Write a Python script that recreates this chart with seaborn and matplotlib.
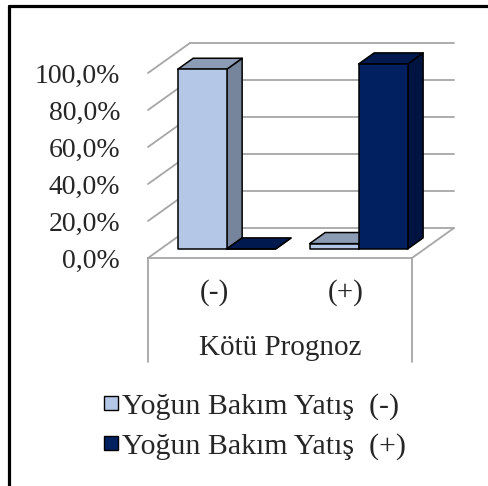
import pandas as pd
import numpy as np
import matplotlib
matplotlib.use("Agg")
import matplotlib.pyplot as plt
import seaborn as sns
from matplotlib.patches import Polygon
from matplotlib.lines import Line2D
from matplotlib.transforms import IdentityTransform

# Data
categories = ["(-)", "(+)"]
series = ["Yoğun Bakım Yatış  (-)", "Yoğun Bakım Yatış  (+)"]
vals_icu_neg = [97.1, 2.9]
vals_icu_pos = [0.0, 100.0]
y_ticks = [0, 20, 40, 60, 80, 100]
y_labels = ["0,0%", "20,0%", "40,0%", "60,0%", "80,0%", "100,0%"]
x_title = "Kötü Prognoz"

# front / top / side shades for each series
light = ["#B4C7E7", "#8D9CB5", "#76849C"]
dark = ["#002060", "#001A4F", "#001441"]

sns.set_style("white")
plt.rcParams["font.family"] = ["Liberation Serif", "DejaVu Serif"]

W, H = 488, 486
fig = plt.figure(figsize=(W / 100, H / 100), dpi=100)
ax = fig.add_axes([148 / W, (H - 258) / H, 264 / W, 185 / H])

df = pd.DataFrame({
    "kat": categories * 2,
    "seri": [series[0]] * 2 + [series[1]] * 2,
    "deger": vals_icu_neg + vals_icu_pos,
})
sns.barplot(data=df, x="kat", y="deger", hue="seri", palette=[light[0], dark[0]],
            width=0.742, gap=0, edgecolor="black", linewidth=1.1, ax=ax,
            legend=False, errorbar=None)
ax.set_xlim(-0.5, 1.5)
ax.set_ylim(0, 100)
for s in ax.spines.values():
    s.set_visible(False)
ax.set_xlabel("")
ax.set_ylabel("")
ax.set_yticks(y_ticks)
ax.set_yticklabels(y_labels, fontsize=20)
ax.set_xticks([0, 1])
ax.set_xticklabels(categories, fontsize=21)
ax.tick_params(axis="y", length=0, pad=20)
ax.tick_params(axis="x", length=0, pad=15)

# oblique depth vector in pixels (matplotlib y goes up)
D = np.array([42.0, 30.0])
BAR_START, BAR_DEPTH = 0.30, 0.37
ident = IdentityTransform()


def px(x, y, depth=0.0):
    return ax.transData.transform((x, y)) + depth * D


grid_c = "#A6A6A6"
for t in y_ticks:
    a, b = px(-0.5, t, 1), px(1.5, t, 1)
    ax.add_line(Line2D([a[0], b[0]], [a[1], b[1]], color=grid_c, lw=1.3,
                       transform=ident, clip_on=False, zorder=1))
    a, b = px(-0.5, t, 0), px(-0.5, t, 1)
    ax.add_line(Line2D([a[0], b[0]], [a[1], b[1]], color=grid_c, lw=1.3,
                       transform=ident, clip_on=False, zorder=1))

# floor front + right edge, and the category box below
f0, f1, f2 = px(-0.5, 0), px(1.5, 0), px(1.5, 0, 1)
ax.add_line(Line2D([f0[0], f1[0], f2[0]], [f0[1], f1[1], f2[1]], color=grid_c,
                   lw=1.3, transform=ident, clip_on=False, zorder=1))
box_bottom = H - 362
for p in (f0, f1):
    ax.add_line(Line2D([p[0], p[0]], [p[1], box_bottom], color=grid_c, lw=1.3,
                       transform=ident, clip_on=False, zorder=1))

# turn the flat seaborn bars into 3D-looking blocks
bars = sorted(ax.patches, key=lambda p: p.get_x())
for i, p in enumerate(bars):
    x0, w, h = p.get_x(), p.get_width(), p.get_height()
    shades = light if p.get_facecolor()[0] > 0.5 else dark
    p.set_visible(False)
    z = 5 + i
    s0 = BAR_START
    s1 = BAR_START + BAR_DEPTH
    front = [px(x0, 0, s0), px(x0 + w, 0, s0), px(x0 + w, h, s0), px(x0, h, s0)]
    top = [px(x0, h, s0), px(x0 + w, h, s0), px(x0 + w, h, s1), px(x0, h, s1)]
    side = [px(x0 + w, 0, s0), px(x0 + w, 0, s1), px(x0 + w, h, s1), px(x0 + w, h, s0)]
    for verts, col in ((side, shades[2]), (top, shades[1]), (front, shades[0])):
        ax.add_patch(Polygon(verts, closed=True, facecolor=col, edgecolor="black",
                             lw=1.1, joinstyle="round", transform=ident,
                             clip_on=False, zorder=z))

fig.text(280 / W, 1 - 348 / H, x_title, fontsize=21, ha="center", va="center")

handles = [Line2D([], [], marker="s", linestyle="", markersize=9.5,
                  markerfacecolor=c[0], markeredgecolor="black", markeredgewidth=1.0)
           for c in (light, dark)]
fig.legend(handles, series, loc="center", bbox_to_anchor=(255 / W, 1 - 426 / H),
           frameon=False, fontsize=21.5, handlelength=0.45, handletextpad=0.15,
           labelspacing=0.42, borderpad=0)

# outer frame (right and bottom edges fall outside the picture)
fig.add_artist(Line2D([8.5 / W, 8.5 / W], [0, 1 - 6.5 / H], color="black", lw=2.3,
                      transform=fig.transFigure))
fig.add_artist(Line2D([8.5 / W, 1], [1 - 6.5 / H, 1 - 6.5 / H], color="black", lw=2.3,
                      transform=fig.transFigure))

fig.savefig("out.png", dpi=100)
